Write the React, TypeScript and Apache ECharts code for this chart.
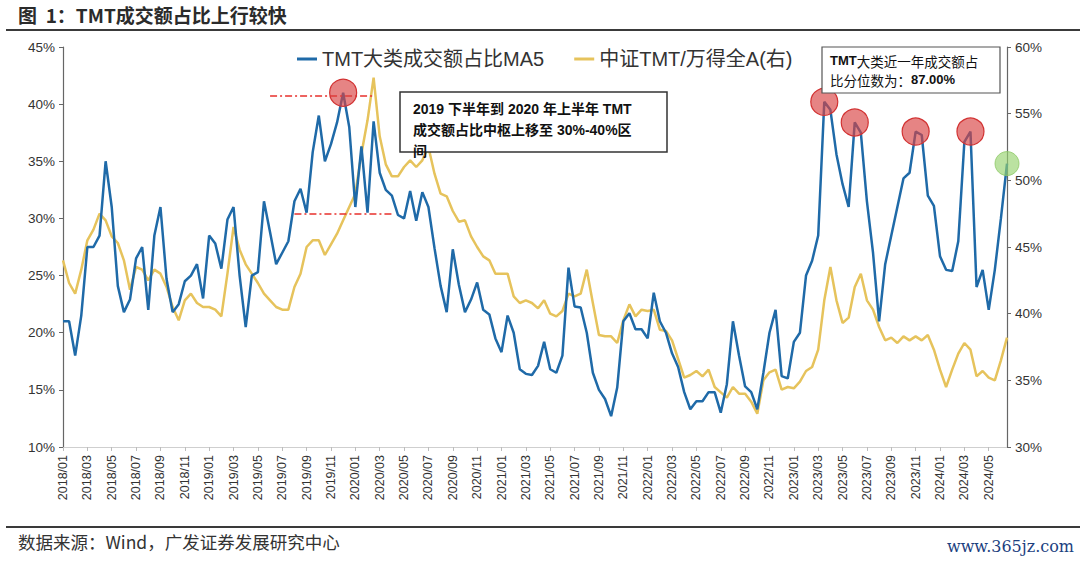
import React, { useEffect, useRef } from "react";
import * as echarts from "echarts";

// Half-month categories from 2018/01 to 2024/06
const categories: string[] = [];
for (let y = 2018; y <= 2024; y++) {
  for (let m = 1; m <= 12; m++) {
    if (y === 2024 && m > 6) break;
    const mm = m < 10 ? "0" + m : "" + m;
    categories.push(`${y}/${mm}/01`);
    categories.push(`${y}/${mm}/16`);
  }
}

// TMT大类成交额占比MA5 (%), left axis
const tmtShare: number[] = [
  21, 21, 18, 21.5, 27.5, 27.5, 28.5, 35, 31, 24.1,
  21.8, 22.9, 26.5, 27.5, 22, 28.5, 31, 24.7, 21.8, 22.5,
  24.5, 25, 26, 23, 28.5, 27.8, 25.6, 29.9, 31, 25,
  20.5, 25, 25.3, 31.5, 28.8, 26, 27, 28, 31.5,
  32.6, 30.5, 35.8, 39, 35, 36.5, 38.4, 41, 38, 31,
  36.3, 30.5, 38.5, 34, 32.5, 32, 30.3, 30, 32.4, 29.8,
  32.3, 31, 27.4, 24.1, 21.8, 27.3, 24.2, 21.8, 22.9, 24.4,
  22, 21.6, 19.5, 18.3, 21.5, 20, 16.8, 16.4,
  16.3, 17.1, 19.2, 16.8, 16.5, 18, 25.7, 22.3, 22.2, 20,
  16.5, 15, 14.2, 12.7, 15.2, 21, 21.7, 20.3, 20.3, 19.5,
  23.5, 21, 20, 18.2, 17, 14.8, 13.3, 14, 14, 14.8,
  14.8, 13, 15.5, 21, 18, 15.3, 14.8, 13.3, 16.5,
  20, 22, 16.2, 16, 19.2, 20, 25, 26.3, 28.5, 40.2,
  39.5, 35.6, 33, 31, 38.4, 37.5, 31.5, 27, 21, 26,
  28.5, 31, 33.5, 34, 37.6, 37.3, 32, 31.1, 26.7, 25.5,
  25.4, 28, 36.7, 37.6, 24, 25.5, 22, 25.5, 30, 34.8,
];

// 中证TMT/万得全A (%), right axis
const tmtRatio: number[] = [
  44, 42.3, 41.5, 43.3, 45.5, 46.3, 47.5, 47, 45.8, 45.3,
  44, 41.8, 43.5, 43.3, 42.5, 43.3, 43, 42, 40.5, 39.5,
  41, 41.5, 40.8, 40.5, 40.5, 40.3, 39.8, 43, 46.5, 44.8,
  43.7, 43, 42.3, 41.5, 41, 40.5, 40.3, 40.3, 42,
  43, 45, 45.5, 45.5, 44.4, 45.2, 46, 47, 48, 49,
  52, 54.5, 57.7, 53.3, 51.2, 50.3, 50.3, 51, 51.5, 51,
  51.5, 52.5, 50.5, 49, 48.8, 47.7, 46.9, 47, 45.8, 45,
  44.3, 44, 43, 43, 43, 41.3, 40.8, 41,
  40.8, 40.4, 41, 40, 39.8, 40.2, 41.5, 41.3, 41.5, 43.3,
  40.8, 38.4, 38.3, 38.3, 37.8, 39.5, 40.7, 39.8, 40.3, 40.2,
  40.3, 38.8, 38.7, 38, 36.6, 35.2, 35.4, 35.7, 35.3, 35.8,
  34.5, 34.1, 33.7, 34.5, 34, 34, 33.4, 32.5, 35,
  35.6, 35.8, 34.3, 34.5, 34.4, 34.9, 35.7, 36, 37.3, 41,
  43.5, 41, 39.3, 39.7, 42, 43, 41, 40.3, 39, 38,
  38.2, 37.8, 38.3, 38, 38.3, 38, 38.4, 37.3, 35.8, 34.5,
  35.8, 37, 37.8, 37.3, 35.3, 35.7, 35.2, 35, 36.5, 38.2,
];

const leftTicks = { min: 10, max: 45, interval: 5 };
const rightTicks = { min: 30, max: 60, interval: 5 };

// Highlighted peaks (indices into categories) and the latest point
const peakIndices: number[] = [46, 125, 130, 140, 149];
const latestIndex = tmtShare.length - 1;

// Reference range lines (left-axis values) for 2019H2–2020H1
const rangeTop = { value: 40.7, from: 34, to: 51 };
const rangeBottom = { value: 30.45, from: 38, to: 54 };

const seriesNames = ["TMT大类成交额占比MA5", "中证TMT/万得全A(右)"];

const FONT = "'Liberation Sans', 'Noto Sans CJK SC', sans-serif";
const CJK = "'Noto Sans CJK SC', 'Liberation Sans', sans-serif";

export default function App() {
  const ref = useRef<HTMLDivElement>(null);

  useEffect(() => {
    document.body.style.margin = "0";
    if (!ref.current) return;
    const chart = echarts.init(ref.current, undefined, { renderer: "svg" });

    const option: any = {
      animation: false,
      backgroundColor: "#ffffff",
      grid: { left: 63, right: 73, top: 47, bottom: 116, containLabel: false },
      legend: {
        data: seriesNames,
        left: 292,
        top: 44,
        icon: "rect",
        itemWidth: 20,
        itemHeight: 3,
        itemGap: 30,
        textStyle: { fontSize: 20, color: "#333", fontFamily: FONT },
      },
      xAxis: {
        type: "category",
        data: categories,
        boundaryGap: false,
        axisLine: { show: true, lineStyle: { color: "#cfcfcf", width: 1 } },
        axisTick: { show: true, interval: 3, length: 4, lineStyle: { color: "#bdbdbd" } },
        axisLabel: {
          interval: 3,
          rotate: 90,
          fontSize: 12.5,
          color: "#333",
          fontFamily: FONT,
          margin: 8,
          formatter: (v: string) => v.slice(0, 7),
        },
        splitLine: { show: false },
      },
      yAxis: [
        {
          type: "value",
          min: leftTicks.min,
          max: leftTicks.max,
          interval: leftTicks.interval,
          axisLine: { show: true, lineStyle: { color: "#666", width: 1.2 } },
          axisTick: { show: true, length: 4, lineStyle: { color: "#666" } },
          axisLabel: { formatter: "{value}%", fontSize: 13.5, color: "#333", fontFamily: FONT, margin: 8 },
          splitLine: { show: false },
        },
        {
          type: "value",
          min: rightTicks.min,
          max: rightTicks.max,
          interval: rightTicks.interval,
          position: "right",
          axisLine: { show: true, lineStyle: { color: "#666", width: 1.2 } },
          axisTick: { show: true, length: 4, lineStyle: { color: "#666" } },
          axisLabel: { formatter: "{value}%", fontSize: 13.5, color: "#333", fontFamily: FONT, margin: 8 },
          splitLine: { show: false },
        },
      ],
      series: [
        {
          name: seriesNames[0],
          type: "line",
          yAxisIndex: 0,
          data: tmtShare,
          showSymbol: false,
          symbol: "none",
          lineStyle: { color: "#1f6aa8", width: 2.5 },
          itemStyle: { color: "#1f6aa8" },
          z: 3,
          markLine: {
            silent: true,
            symbol: ["none", "none"],
            label: { show: false },
            lineStyle: { color: "#e8302c", width: 1.5, type: [7, 3, 2, 3] },
            data: [
              [
                { coord: [categories[rangeTop.from], rangeTop.value] },
                { coord: [categories[rangeTop.to], rangeTop.value] },
              ],
              [
                { coord: [categories[rangeBottom.from], rangeBottom.value] },
                { coord: [categories[rangeBottom.to], rangeBottom.value] },
              ],
            ],
          },
          markPoint: {
            silent: true,
            symbol: "circle",
            label: { show: false },
            data: [
              ...peakIndices.map((i) => ({
                coord: [categories[i], tmtShare[i]],
                symbolSize: 27,
                itemStyle: { color: "rgba(216,66,66,0.65)", borderColor: "#d23232", borderWidth: 1.2 },
              })),
              {
                coord: [categories[latestIndex], tmtShare[latestIndex]],
                symbolSize: 24,
                itemStyle: { color: "rgba(150,210,110,0.65)", borderColor: "rgba(140,200,100,0.8)", borderWidth: 1 },
              },
            ],
          },
        },
        {
          name: seriesNames[1],
          type: "line",
          yAxisIndex: 1,
          data: tmtRatio,
          showSymbol: false,
          symbol: "none",
          lineStyle: { color: "#e6c35c", width: 2.5 },
          itemStyle: { color: "#e6c35c" },
          z: 2,
        },
      ],
      graphic: [
        {
          type: "text",
          left: 18,
          top: 5,
          z: 100,
          style: {
            text: "图  1：TMT成交额占比上行较快",
            font: `bold 19px ${CJK}`,
            fill: "#2b2b2b",
          },
        },
        {
          type: "line",
          z: 100,
          shape: { x1: 6, y1: 30, x2: 1080, y2: 30 },
          style: { stroke: "#3a3a3a", lineWidth: 2 },
        },
        {
          type: "line",
          z: 100,
          shape: { x1: 6, y1: 527, x2: 1080, y2: 527 },
          style: { stroke: "#3a3a3a", lineWidth: 2 },
        },
        {
          type: "text",
          left: 18,
          top: 533,
          z: 100,
          style: {
            text: "数据来源：Wind，广发证券发展研究中心",
            font: `17.5px ${CJK}`,
            fill: "#333",
          },
        },
        {
          type: "text",
          right: 6,
          top: 538,
          z: 100,
          style: {
            text: "www.365jz.com",
            font: `16px 'DejaVu Serif', 'Liberation Serif', serif`,
            fill: "#1c3f7f",
          },
        },
        {
          type: "rect",
          z: 100,
          shape: { x: 400, y: 92, width: 267, height: 60 },
          style: { fill: "#ffffff", stroke: "#333", lineWidth: 1.5 },
        },
        {
          type: "text",
          z: 101,
          x: 413,
          y: 98,
          style: {
            text: "2019 下半年到 2020 年上半年 TMT\n成交额占比中枢上移至 30%-40%区\n间",
            font: `bold 14px ${FONT}`,
            fill: "#111",
            lineHeight: 21,
          },
        },
        {
          type: "rect",
          z: 100,
          shape: { x: 822, y: 47, width: 178, height: 46 },
          style: { fill: "#ffffff", stroke: "#555", lineWidth: 1.2 },
        },
        {
          type: "text",
          z: 101,
          x: 830,
          y: 51,
          style: {
            text: "{b|TMT}{n|大类近一年成交额占}\n{n|比分位数为：}{b|87.00%}",
            lineHeight: 19,
            rich: {
              b: { font: `bold 13px ${FONT}`, fill: "#111", lineHeight: 19 },
              n: { font: `13.5px ${CJK}`, fill: "#111", lineHeight: 19 },
            },
          },
        },
      ],
    };

    chart.setOption(option);
    return () => chart.dispose();
  }, []);

  return <div ref={ref} style={{ width: 1080, height: 563 }} />;
}
